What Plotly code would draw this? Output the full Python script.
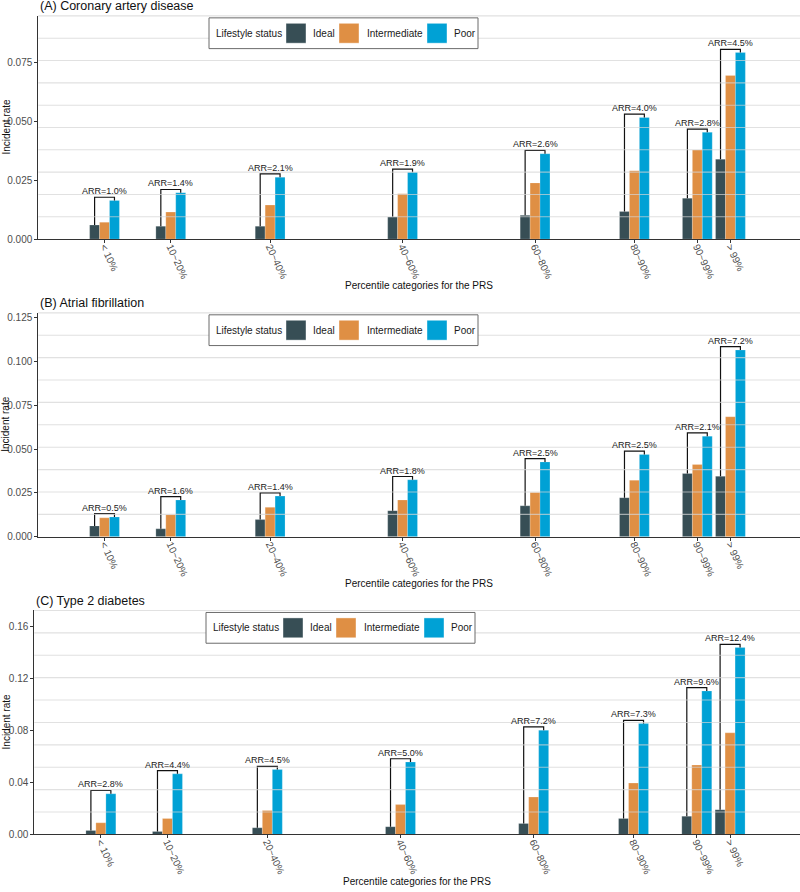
"""Incident rate by PRS percentile category and lifestyle status (three outcomes)"""

import plotly.graph_objects as go

# x categories and their percentile midpoints (bars are placed on a numeric axis)
categories = ["< 10%", "10~20%", "20~40%", "40~60%", "60~80%", "80~90%", "90~99%", "> 99%"]
positions = [5, 15, 30, 50, 70, 85, 94.5, 99.5]
statuses = ["Ideal", "Intermediate", "Poor"]
colors = ["#374E55", "#DF8F44", "#00A1D5"]

# (A) Coronary artery disease
cad_ideal = [0.0060, 0.0055, 0.0055, 0.0094, 0.0101, 0.0117, 0.0174, 0.0340]
cad_inter = [0.0072, 0.0115, 0.0145, 0.0193, 0.0239, 0.0291, 0.0379, 0.0696]
cad_poor = [0.0164, 0.0197, 0.0263, 0.0284, 0.0363, 0.0517, 0.0454, 0.0793]
cad_arr = [1.0, 1.4, 2.1, 1.9, 2.6, 4.0, 2.8, 4.5]

# (B) Atrial fibrillation
af_ideal = [0.0062, 0.0045, 0.0098, 0.0149, 0.0177, 0.0223, 0.0361, 0.0345]
af_inter = [0.0108, 0.0126, 0.0168, 0.0210, 0.0253, 0.0323, 0.0413, 0.0685]
af_poor = [0.0113, 0.0210, 0.0232, 0.0325, 0.0427, 0.0470, 0.0574, 0.1066]
af_arr = [0.5, 1.6, 1.4, 1.8, 2.5, 2.5, 2.1, 7.2]

# (C) Type 2 diabetes
t2d_ideal = [0.0030, 0.0023, 0.0051, 0.0059, 0.0084, 0.0122, 0.0140, 0.0190]
t2d_inter = [0.0089, 0.0122, 0.0183, 0.0229, 0.0287, 0.0394, 0.0533, 0.0780]
t2d_poor = [0.0312, 0.0465, 0.0498, 0.0556, 0.0800, 0.0851, 0.1102, 0.1435]
t2d_arr = [2.8, 4.4, 4.5, 5.0, 7.2, 7.3, 9.6, 12.4]

W, H = 800, 892
FONT = "Liberation Sans, Arial, sans-serif"
BAR_W = 1.5

panels = [
    # title, values, arr, y max, dtick, tickformat, plot box (left, top, bottom px), legend left px
    ("(A) Coronary artery disease", (cad_ideal, cad_inter, cad_poor), cad_arr,
     0.0949, 0.025, ".3f", (38.3, 15, 240), 209),
    ("(B) Atrial fibrillation", (af_ideal, af_inter, af_poor), af_arr,
     0.1278, 0.025, ".3f", (38.3, 314.3, 540), 209),
    ("(C) Type 2 diabetes", (t2d_ideal, t2d_inter, t2d_poor), t2d_arr,
     0.172, 0.04, ".2f", (34.3, 614.3, 840), 206),
]

# legend key layout, px offsets from the legend box's left edge
LEG_W, LEG_H = 269, 31
LEG_SWATCH = [77, 130, 218]
LEG_TEXT = [102, 156, 243]


def px(x):
    return x / W


def py(y):
    return 1 - y / H


fig = go.Figure()
annotations = []
shapes = []
legend_shapes = []
layout = {}

for i, (title, vals, arr, ymax, dtick, fmt, box, leg_left) in enumerate(panels):
    n = "" if i == 0 else str(i + 1)
    xa, ya = "x" + n, "y" + n
    left, top, bottom = box

    for j, (status, color) in enumerate(zip(statuses, colors)):
        fig.add_trace(go.Bar(
            x=positions, y=vals[j], width=BAR_W, offset=BAR_W * (j - 1.5),
            marker=dict(color=color, line=dict(width=0.6, color="rgba(255,255,255,0.35)")),
            name=status, showlegend=False, xaxis=xa, yaxis=ya,
        ))

    # ARR brackets: from Ideal bar up and over to Poor bar
    off = ymax * 0.0147
    bx, by = [], []
    for p, lo, hi in zip(positions, vals[0], vals[2]):
        bx += [p - BAR_W, p - BAR_W, p + BAR_W, p + BAR_W, None]
        by += [lo, hi + off, hi + off, hi, None]
    fig.add_trace(go.Scatter(
        x=bx, y=by, mode="lines", line=dict(color="#111111", width=1.2),
        showlegend=False, hoverinfo="skip", xaxis=xa, yaxis=ya,
    ))
    for p, hi, a in zip(positions, vals[2], arr):
        annotations.append(dict(
            x=p, y=hi + off, xref=xa, yref=ya, text=f"ARR={a:.1f}%",
            showarrow=False, yanchor="bottom", yshift=-1,
            font=dict(size=9, color="#1a1a1a", family=FONT),
        ))

    # grid drawn over the bars at tenths of the panel
    for k in range(1, 11):
        shapes.append(dict(
            type="line", xref=xa + " domain", yref=ya + " domain",
            x0=0, x1=1, y0=k / 10, y1=k / 10, layer="above",
            line=dict(color="rgba(212,212,212,0.7)", width=1.1),
        ))

    # legend box for this panel
    lt = top + 2
    legend_shapes.append(dict(
        type="rect", xref="paper", yref="paper", layer="above",
        x0=px(leg_left), x1=px(leg_left + LEG_W), y0=py(lt + LEG_H), y1=py(lt),
        fillcolor="white", line=dict(color="#6b6b6b", width=1),
    ))
    annotations.append(dict(
        x=px(leg_left + 5), y=py(lt + LEG_H / 2), xref="paper", yref="paper",
        text="Lifestyle status", showarrow=False, xanchor="left", yanchor="middle",
        font=dict(size=10, color="#1a1a1a", family=FONT),
    ))
    for status, color, sx, tx in zip(statuses, colors, LEG_SWATCH, LEG_TEXT):
        legend_shapes.append(dict(
            type="rect", xref="paper", yref="paper", layer="above",
            x0=px(leg_left + sx), x1=px(leg_left + sx + 20),
            y0=py(lt + 25.5), y1=py(lt + 5.5),
            fillcolor=color, line=dict(color="rgba(255,255,255,0.5)", width=0.8),
        ))
        annotations.append(dict(
            x=px(leg_left + tx), y=py(lt + LEG_H / 2), xref="paper", yref="paper",
            text=status, showarrow=False, xanchor="left", yanchor="middle",
            font=dict(size=10, color="#1a1a1a", family=FONT),
        ))

    layout["xaxis" + n] = dict(
        domain=[px(left), 1], range=[-5, 110], anchor=ya,
        tickvals=positions, ticktext=categories, tickangle=65,
        ticks="outside", ticklen=3, tickcolor="#333333",
        ticklabelstandoff=-6,
        showline=True, linecolor="#333333", linewidth=1,
        showgrid=False, zeroline=False,
        tickfont=dict(size=10, color="#4D4D4D", family=FONT),
    )
    layout["yaxis" + n] = dict(
        domain=[py(bottom), py(top)], range=[0, ymax], anchor=xa,
        dtick=dtick, tick0=0, tickformat=fmt,
        ticks="outside", ticklen=3, tickcolor="#333333",
        showline=True, linecolor="#333333", linewidth=1,
        showgrid=False, zeroline=False,
        tickfont=dict(size=10, color="#4D4D4D", family=FONT),
    )

    # panel title, axis titles
    annotations.append(dict(
        x=px(left), y=py(top - 10), xref="paper", yref="paper",
        text=title, showarrow=False, xanchor="left", yanchor="middle",
        font=dict(size=12.5, color="#111111", family=FONT),
    ))
    annotations.append(dict(
        x=px((left + W) / 2), y=py(bottom + 47), xref="paper", yref="paper",
        text="Percentile categories for the PRS", showarrow=False,
        xanchor="center", yanchor="middle",
        font=dict(size=10, color="#111111", family=FONT),
    ))
    annotations.append(dict(
        x=px(6), y=py((top + bottom) / 2), xref="paper", yref="paper",
        text="Incident rate", showarrow=False, textangle=-90,
        xanchor="center", yanchor="middle",
        font=dict(size=10, color="#111111", family=FONT),
    ))

fig.update_layout(
    width=W, height=H,
    margin=dict(l=0, r=0, t=0, b=0),
    paper_bgcolor="white", plot_bgcolor="white",
    font=dict(family=FONT),
    barmode="overlay",
    showlegend=False,
    annotations=annotations,
    shapes=shapes + legend_shapes,
    **layout,
)

# the page's default body margin would push the fixed-size figure off the window
fig.write_html(
    "out.html",
    config={"displayModeBar": False},
    post_script="document.body.style.margin = '0px';",
)
